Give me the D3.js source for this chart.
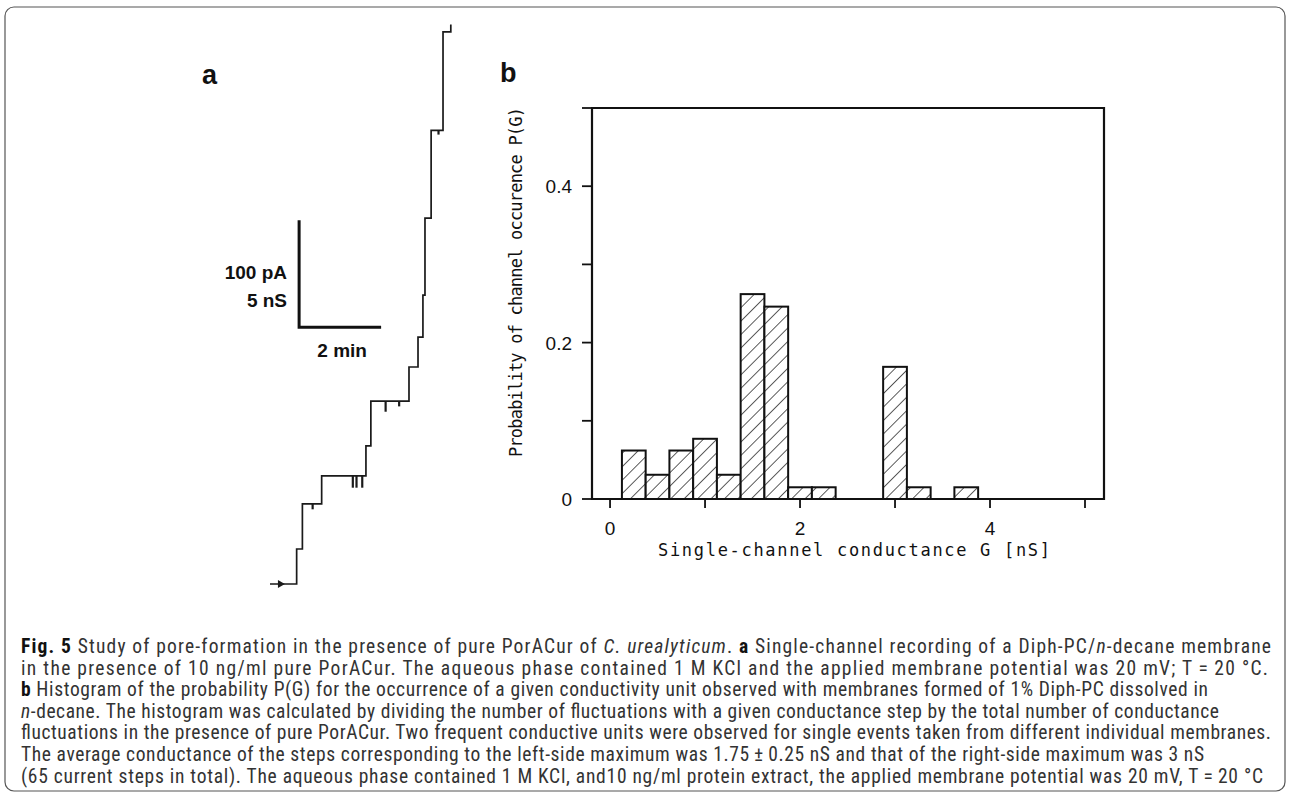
<!DOCTYPE html>
<html>
<head>
<meta charset="utf-8">
<title>Fig. 5 PorACur pore formation</title>
<style>
	body { margin: 0; background: #fff; }
	svg { display: block; }
	.frame { fill: none; stroke: #555; stroke-width: 1.2; }
	.panel { font-family: "Liberation Sans", Arial, sans-serif; font-weight: bold; font-size: 27px; fill: #111; }
	.scale-label { font-family: "Liberation Sans", Arial, sans-serif; font-weight: bold; font-size: 19px; fill: #111; }
	.trace { fill: none; stroke: #1a1a1a; stroke-width: 1.7; }
	.spike { stroke: #1a1a1a; stroke-width: 2.2; }
	.scalebar { stroke: #111; stroke-width: 3; fill: none; }
	.axis-line { stroke: #111; stroke-width: 2.2; fill: none; }
	.tick { stroke: #111; stroke-width: 1.8; }
	.tick-label { font-family: "Liberation Sans", Arial, sans-serif; font-size: 19px; fill: #111; }
	.axis-title { font-family: "DejaVu Sans Mono", monospace; font-size: 17px; fill: #111; }
	.bar { fill: url(#hatch); stroke: #111; stroke-width: 2; }
	.caption { font-family: "Liberation Sans Narrow", "Roboto Condensed", Roboto, "Liberation Sans", sans-serif; font-size: 19.5px; fill: #333; }
</style>
</head>
<body>
<div id="chart"></div>
<script src="https://cdnjs.cloudflare.com/ajax/libs/d3/7.8.5/d3.min.js"></script>
<script>

// panel a: single-channel recording (time in min, current in pA)
var stepTimes  = [0, 0.65, 0.79, 1.26, 2.34, 2.46, 3.39, 3.61, 3.73, 3.78, 3.93, 4.22, 4.41, 4.41];
var stepLevels = [0, 32.7, 74.8, 101, 129, 171, 202.8, 230.8, 270, 342, 424, 516, 516, 523];
var spikeTimes  = [1.04, 2.02, 2.11, 2.25, 2.82, 3.15, 4.11];
var spikeDepths = [5, 11, 11, 11, 10, 5, 4];

// panel b: histogram of single-channel conductance
var binLeft = [0.125, 0.375, 0.625, 0.875, 1.125, 1.375, 1.625, 1.875, 2.125, 2.875, 3.125, 3.625];
var binWidth = 0.25;
var probability = [0.062, 0.031, 0.062, 0.077, 0.031, 0.262, 0.246, 0.015, 0.015, 0.169, 0.015, 0.015];
var yTicks = [0, 0.1, 0.2, 0.3, 0.4, 0.5];
var yTickLabels = ["0", "", "0.2", "", "0.4", ""];
var xTicks = [0, 1, 2, 3, 4, 5];
var xTickLabels = ["0", "", "2", "", "4", ""];

var captionLines = [
	[["Fig. 5", "b"], [" Study of pore-formation in the presence of pure PorACur of ", ""], ["C. urealyticum", "i"], [". ", ""], ["a", "b"], [" Single-channel recording of a Diph-PC/", ""], ["n", "i"], ["-decane membrane", ""]],
	[["in the presence of 10 ng/ml pure PorACur. The aqueous phase contained 1 M KCl and the applied membrane potential was 20 mV; T\u2009=\u200920 \u00b0C.", ""]],
	[["b", "b"], [" Histogram of the probability P(G) for the occurrence of a given conductivity unit observed with membranes formed of 1% Diph-PC dissolved in", ""]],
	[["n", "i"], ["-decane. The histogram was calculated by dividing the number of fluctuations with a given conductance step by the total number of conductance", ""]],
	[["fluctuations in the presence of pure PorACur. Two frequent conductive units were observed for single events taken from different individual membranes.", ""]],
	[["The average conductance of the steps corresponding to the left-side maximum was 1.75\u2009\u00b1\u20090.25 nS and that of the right-side maximum was 3 nS", ""]],
	[["(65 current steps in total). The aqueous phase contained 1 M KCl, and10 ng/ml protein extract, the applied membrane potential was 20 mV, T\u2009=\u200920 \u00b0C", ""]]
];
var captionEnds = [1271, 1268, 1208, 1219, 1271, 1204, 1263];

var svg = d3.select("#chart").append("svg")
	.attr("width", 1290)
	.attr("height", 793);

svg.append("rect").attr("width", 1290).attr("height", 793).attr("fill", "#fff");
svg.append("rect").attr("class", "frame")
	.attr("x", 5).attr("y", 7).attr("width", 1280).attr("height", 784).attr("rx", 9);

var defs = svg.append("defs");
var hatch = defs.append("pattern")
	.attr("id", "hatch")
	.attr("patternUnits", "userSpaceOnUse")
	.attr("width", 9.5).attr("height", 9.5)
	.attr("patternTransform", "rotate(45)");
hatch.append("rect").attr("width", 9.5).attr("height", 9.5).attr("fill", "#fff");
hatch.append("line")
	.attr("x1", 0).attr("y1", 0).attr("x2", 0).attr("y2", 9.5)
	.attr("stroke", "#333").attr("stroke-width", 1.6);

// ---------- panel a ----------
var tScale = d3.scaleLinear().domain([0, 1]).range([270, 311]);
var iScale = d3.scaleLinear().domain([0, 100]).range([584, 477]);

svg.append("text").attr("class", "panel").attr("x", 202).attr("y", 84).text("a");

var tracePts = stepTimes.map(function(t, i) { return [t, stepLevels[i]]; });
var line = d3.line()
	.x(function(d) { return tScale(d[0]); })
	.y(function(d) { return iScale(d[1]); })
	.curve(d3.curveStepAfter);

svg.append("path").attr("class", "trace").attr("d", line(tracePts));

function levelAt(t) {
	var lv = stepLevels[0];
	stepTimes.forEach(function(s, i) { if (s <= t) lv = stepLevels[i]; });
	return lv;
}

svg.selectAll(".spike")
	.data(spikeTimes)
	.enter()
	.append("line")
	.attr("class", "spike")
	.attr("x1", function(d) { return tScale(d); })
	.attr("x2", function(d) { return tScale(d); })
	.attr("y1", function(d) { return iScale(levelAt(d)); })
	.attr("y2", function(d, i) { return iScale(levelAt(d) - spikeDepths[i]); });

// start marker
svg.append("path")
	.attr("d", d3.symbol().type(d3.symbolTriangle).size(28))
	.attr("transform", "translate(" + tScale(0.25) + "," + iScale(0) + ") rotate(90)")
	.attr("fill", "#1a1a1a");

// scale bar: 100 pA / 2 min
var barT = 0.71, barI = 240;
svg.append("path").attr("class", "scalebar")
	.attr("d", "M" + tScale(barT) + "," + iScale(barI + 100) +
		"V" + iScale(barI) + "H" + tScale(barT + 2));
svg.append("text").attr("class", "scale-label")
	.attr("x", 287).attr("y", 279).attr("text-anchor", "end").text("100 pA");
svg.append("text").attr("class", "scale-label")
	.attr("x", 287).attr("y", 307).attr("text-anchor", "end").text("5 nS");
svg.append("text").attr("class", "scale-label")
	.attr("x", tScale(barT + 1.05)).attr("y", 357).attr("text-anchor", "middle").text("2 min");

// ---------- panel b ----------
var x = d3.scaleLinear().domain([-0.19, 5.2]).range([592, 1104]);
var y = d3.scaleLinear().domain([0, 0.5]).range([499, 108]);

svg.append("text").attr("class", "panel").attr("x", 500).attr("y", 82).text("b");

svg.selectAll(".bar")
	.data(binLeft)
	.enter()
	.append("rect")
	.attr("class", "bar")
	.attr("x", function(d) { return x(d); })
	.attr("width", function(d) { return x(d + binWidth) - x(d); })
	.attr("y", function(d, i) { return y(probability[i]); })
	.attr("height", function(d, i) { return y(0) - y(probability[i]); });

svg.append("path").attr("class", "axis-line")
	.attr("d", "M" + x(-0.19) + "," + y(0.5) + "V" + y(0) + "H" + x(5.2) + "V" + y(0.5) + "Z");

var yAxis = svg.append("g");
yAxis.selectAll("line")
	.data(yTicks)
	.enter()
	.append("line")
	.attr("class", "tick")
	.attr("x1", x(-0.19) - 10).attr("x2", x(-0.19))
	.attr("y1", function(d) { return y(d); })
	.attr("y2", function(d) { return y(d); });
yAxis.selectAll("text")
	.data(yTicks)
	.enter()
	.append("text")
	.attr("class", "tick-label")
	.attr("x", x(-0.19) - 20)
	.attr("y", function(d) { return y(d) + 7; })
	.attr("text-anchor", "end")
	.text(function(d, i) { return yTickLabels[i]; });

var xAxis = svg.append("g");
xAxis.selectAll("line")
	.data(xTicks)
	.enter()
	.append("line")
	.attr("class", "tick")
	.attr("x1", function(d) { return x(d); })
	.attr("x2", function(d) { return x(d); })
	.attr("y1", y(0)).attr("y2", y(0) + 9);
xAxis.selectAll("text")
	.data(xTicks)
	.enter()
	.append("text")
	.attr("class", "tick-label")
	.attr("x", function(d) { return x(d); })
	.attr("y", y(0) + 36)
	.attr("text-anchor", "middle")
	.text(function(d, i) { return xTickLabels[i]; });

svg.append("text").attr("class", "axis-title")
	.attr("x", 658).attr("y", 556)
	.attr("textLength", 392).attr("lengthAdjust", "spacing")
	.text("Single-channel conductance G [nS]");

svg.append("text").attr("class", "axis-title")
	.attr("transform", "translate(522,457) rotate(-90)")
	.attr("x", 0).attr("y", 0)
	.attr("textLength", 350).attr("lengthAdjust", "spacing")
	.text("Probability of channel occurence P(G)");

// ---------- caption ----------
var cap = svg.append("g").attr("class", "caption");
captionLines.forEach(function(segs, i) {
	var t = cap.append("text")
		.attr("x", 21)
		.attr("y", 653 + i * 21.6)
		.attr("textLength", captionEnds[i] - 21)
		.attr("lengthAdjust", "spacing");
	segs.forEach(function(s) {
		t.append("tspan")
			.attr("font-weight", s[1] === "b" ? "bold" : null)
			.attr("font-style", s[1] === "i" ? "italic" : null)
			.attr("fill", s[1] === "b" ? "#111" : null)
			.text(s[0]);
	});
});

</script>
</body>
</html>
